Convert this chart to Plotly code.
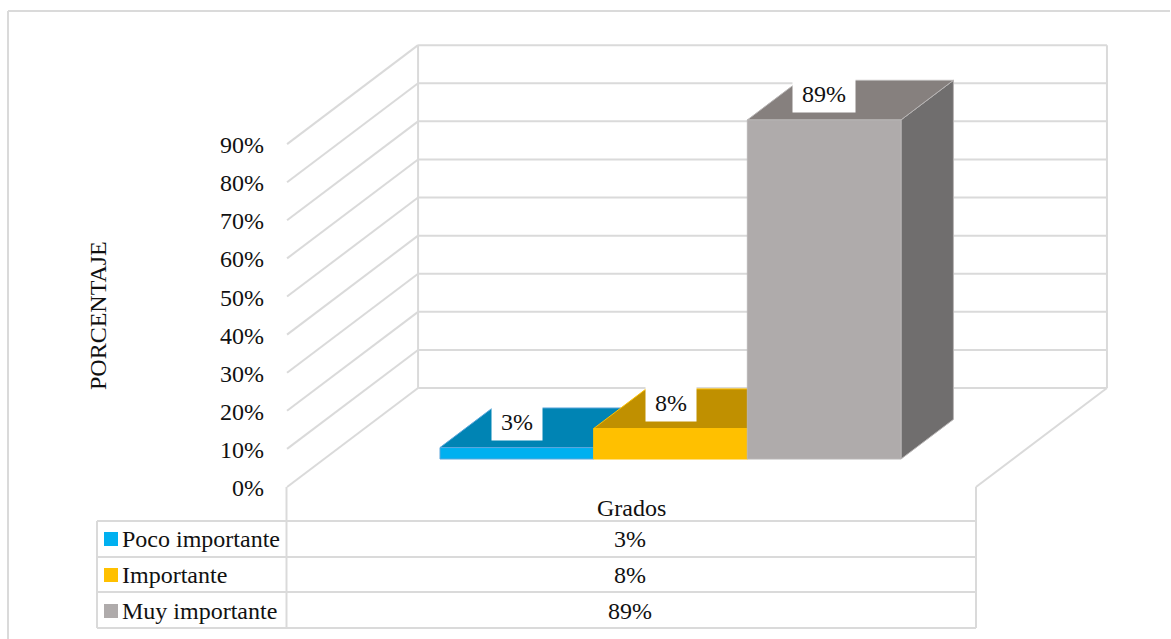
import plotly.graph_objects as go

# values
categories = ["Poco importante", "Importante", "Muy importante"]
values = [3, 8, 89]
table_labels = ["3%", "8%", "89%"]
ticks = [0, 10, 20, 30, 40, 50, 60, 70, 80, 90]

front_colors = ["#00B0F0", "#FFC000", "#AFABAB"]
top_colors = ["#0084B4", "#C09000", "#86807E"]
side_colors = ["#0076A0", "#A67C00", "#706E6E"]
edge_colors = ["#5BA6DC", "#FFC000", "#B8B5B5"]

WIDTH, HEIGHT = 1171, 639
GRID = "#DADADA"
FONT = "Liberation Serif"
FONT_SIZE = 24
TEXT = "#111111"

# axis scale: one bar is 153.67 px wide, one percent is 3.81 px tall
X_UNIT = 153.67
Y_UNIT = 3.81
X_RANGE = [-440 / X_UNIT - 0.5, (WIDTH - 440) / X_UNIT - 0.5]
Y_RANGE = [-(HEIGHT - 459) / Y_UNIT, 459 / Y_UNIT]

# fake 3D: depth 0 is the front of the floor, 1 the back wall
DX, DY = 0.8525, 25.98
BAR_DEPTH = 0.283
BAR_THICK = 0.4
WALL_LEFT, WALL_RIGHT = -1.254, 3.229


def pt(u, v, d):
    return u + DX * (d - BAR_DEPTH), v + DY * (d - BAR_DEPTH)


def px_x(x):
    return x / WIDTH


def px_y(y):
    return 1 - y / HEIGHT


def polygon(points, fill, edge):
    xs = [p[0] for p in points] + [points[0][0]]
    ys = [p[1] for p in points] + [points[0][1]]
    return go.Scatter(x=xs, y=ys, mode="lines", fill="toself", fillcolor=fill,
                      line={"color": edge, "width": 1}, hoverinfo="skip", showlegend=False)


def label(x, y, text, **kwargs):
    fig.add_annotation(xref="paper", yref="paper", x=px_x(x), y=px_y(y), text=text, showarrow=False,
                       yanchor="middle", font={"family": FONT, "size": FONT_SIZE, "color": TEXT}, **kwargs)


fig = go.Figure()

# walls and floor outline
gx, gy = [], []
for t in ticks:
    for a, b in [
        (pt(WALL_LEFT, t, 0), pt(WALL_LEFT, t, 1)),
        (pt(WALL_LEFT, t, 1), pt(WALL_RIGHT, t, 1)),
    ]:
        gx += [a[0], b[0], None]
        gy += [a[1], b[1], None]
for a, b in [
    (pt(WALL_LEFT, ticks[0], 1), pt(WALL_LEFT, ticks[-1], 1)),
    (pt(WALL_RIGHT, ticks[0], 1), pt(WALL_RIGHT, ticks[-1], 1)),
    (pt(WALL_RIGHT, ticks[0], 0), pt(WALL_RIGHT, ticks[0], 1)),
]:
    gx += [a[0], b[0], None]
    gy += [a[1], b[1], None]
fig.add_trace(go.Scatter(x=gx, y=gy, mode="lines", line={"color": GRID, "width": 2},
                         hoverinfo="skip", showlegend=False))

# top and side faces, worked out from each value
d0, d1 = BAR_DEPTH, BAR_DEPTH + BAR_THICK
for i, v in enumerate(values):
    l, r = i - 0.5, i + 0.5
    fig.add_trace(polygon([pt(r, 0, d0), pt(r, 0, d1), pt(r, v, d1), pt(r, v, d0)],
                          side_colors[i], edge_colors[i]))
    fig.add_trace(polygon([pt(l, v, d0), pt(l, v, d1), pt(r, v, d1), pt(r, v, d0)],
                          top_colors[i], edge_colors[i]))

# front faces sit on an overlaying axis pair so they cover the faces behind
for i, (name, v) in enumerate(zip(categories, values)):
    fig.add_trace(go.Bar(x=[i], y=[v], width=1, name=name, xaxis="x2", yaxis="y2",
                         marker={"color": front_colors[i], "line": {"color": edge_colors[i], "width": 1}},
                         showlegend=False))

# value labels on the bars
for i, v in enumerate(values):
    fig.add_annotation(x=i, y=v, yshift=26, text=f"{v}%", showarrow=False, bgcolor="white",
                       width=50 if v < 10 else 62, height=36, borderpad=0, yanchor="middle",
                       font={"family": FONT, "size": FONT_SIZE, "color": TEXT})

# y tick labels along the front edge of the side wall
for t in ticks:
    x, y = pt(WALL_LEFT, t, 0)
    fig.add_annotation(x=x, y=y, xshift=-21, yshift=-1, text=f"{t}%", showarrow=False, xanchor="right",
                       yanchor="middle", font={"family": FONT, "size": FONT_SIZE, "color": TEXT})

# data table below the plot
row_lines = [521, 557, 592, 628]
row_centers = [539, 575, 611]
shapes = []


def hline(x0, x1, y, width=2):
    shapes.append(dict(type="line", xref="paper", yref="paper", x0=px_x(x0), x1=px_x(x1),
                       y0=px_y(y), y1=px_y(y), line={"color": GRID, "width": width}))


def vline(x, y0, y1, width=2):
    shapes.append(dict(type="line", xref="paper", yref="paper", x0=px_x(x), x1=px_x(x),
                       y0=px_y(y0), y1=px_y(y1), line={"color": GRID, "width": width}))


for y in row_lines:
    hline(97, 976, y)
vline(97, 521, 628)
vline(286.5, 487, 628)
vline(976, 487, 628)

# chart frame
hline(8, 1170, 11)
vline(8, 11, 639)

for i, name in enumerate(categories):
    yc = row_centers[i]
    shapes.append(dict(type="rect", xref="paper", yref="paper", x0=px_x(104), x1=px_x(118),
                       y0=px_y(yc - 7), y1=px_y(yc + 7), fillcolor=front_colors[i],
                       line={"width": 0}))
    label(120, yc, name, xanchor="left")
    label(630, yc, table_labels[i])

label(631, 508, "Grados")
label(83, 316, "PORCENTAJE", textangle=-90)

axis_off = {"visible": False, "fixedrange": True}
fig.update_layout(
    width=WIDTH,
    height=HEIGHT,
    margin={"l": 0, "r": 0, "t": 0, "b": 0},
    paper_bgcolor="white",
    plot_bgcolor="white",
    barmode="overlay",
    showlegend=False,
    shapes=shapes,
    xaxis={**axis_off, "range": X_RANGE},
    yaxis={**axis_off, "range": Y_RANGE},
    xaxis2={**axis_off, "range": X_RANGE, "overlaying": "x"},
    yaxis2={**axis_off, "range": Y_RANGE, "overlaying": "y"},
)

# the page's default body margin would push the chart 8px in
fig.write_html("out.html", config={"displayModeBar": False},
               post_script="document.body.style.margin='0';")
